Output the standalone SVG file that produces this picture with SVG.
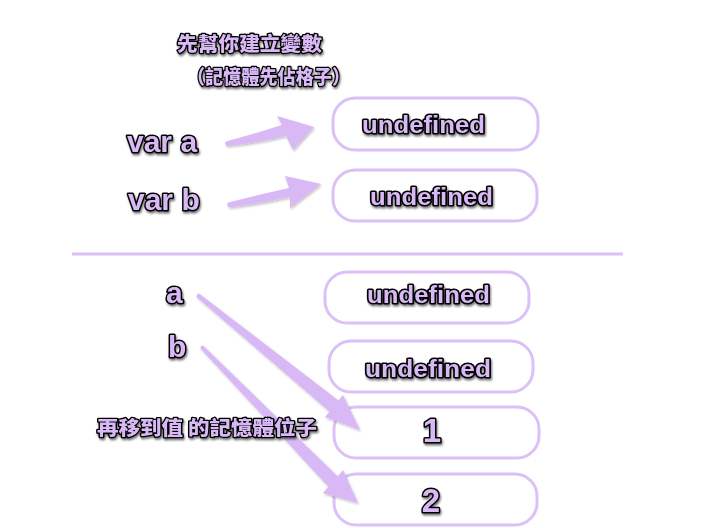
<svg xmlns="http://www.w3.org/2000/svg" width="720" height="528" viewBox="0 0 720 528">
<defs>
<filter id="ts" x="-20%" y="-30%" width="140%" height="170%">
<feDropShadow dx="1" dy="2" stdDeviation="1.3" flood-color="#000" flood-opacity="0.55"/>
</filter>
<filter id="as" x="-20%" y="-20%" width="140%" height="140%">
<feDropShadow dx="1" dy="1.5" stdDeviation="1.2" flood-color="#000" flood-opacity="0.25"/>
</filter>
</defs>
<style>
.t{font-family:"Liberation Sans","Noto Sans CJK TC",sans-serif;font-weight:bold;fill:#d8b9f6;stroke:#000;stroke-width:3;stroke-linejoin:round;paint-order:stroke;filter:url(#ts)}
.c{font-family:"Noto Sans CJK TC","Liberation Sans",sans-serif;font-weight:900;font-size:19.5px;fill:#d8b9f6;stroke:#000;stroke-width:2.6;stroke-linejoin:round;paint-order:stroke;filter:url(#ts)}
.v{font-size:30px}
.u{font-size:23px}
.n{font-size:33px}
.box{fill:#fff;stroke:#dcc0f8;stroke-width:3}
.arr{fill:#d8b9f6;filter:url(#as)}
</style>
<rect width="720" height="528" fill="#fff"/>
<g id="title">
<text class="c" x="177" y="51" textLength="145" lengthAdjust="spacingAndGlyphs">先幫你建立變數</text>
<text class="c" x="187" y="84" textLength="163" lengthAdjust="spacingAndGlyphs">（記憶體先佔格子）</text>
</g>
<g id="var-a"><text class="t v" x="127" y="152">var a</text></g>
<g id="var-b"><text class="t v" x="128" y="210">var b</text></g>
<g id="box1"><rect class="box" x="333" y="98" width="205" height="52" rx="22"/><text class="t u" x="362" y="133" textLength="123" lengthAdjust="spacingAndGlyphs">undefined</text></g>
<g id="box2"><rect class="box" x="333" y="170" width="204" height="51" rx="22"/><text class="t u" x="370" y="205" textLength="123" lengthAdjust="spacingAndGlyphs">undefined</text></g>
<line x1="72" y1="254" x2="623" y2="254" stroke="#dcc0f8" stroke-width="3"/>
<g id="a"><text class="t v" x="166" y="303">a</text></g>
<g id="b"><text class="t v" x="168" y="357">b</text></g>
<g id="box3"><rect class="box" x="325" y="272" width="204" height="51" rx="22"/><text class="t u" x="367" y="303" textLength="123" lengthAdjust="spacingAndGlyphs">undefined</text></g>
<g id="box4"><rect class="box" x="329" y="341" width="204" height="51" rx="22"/><text class="t u" x="365" y="377" textLength="126" lengthAdjust="spacingAndGlyphs">undefined</text></g>
<g id="box5"><rect class="box" x="334" y="407" width="205" height="51" rx="22"/><text class="t n" x="432" y="442" text-anchor="middle">1</text></g>
<g id="box6"><rect class="box" x="334" y="474" width="203" height="51" rx="22"/><text class="t n" x="431" y="512" text-anchor="middle">2</text></g>
<g id="connectors">
<path class="arr" d="M226,141.5 Q254,134 282,125 L277,116 L314,127 L293,150 L286,136 Q257,143 227,146 Q224,144 226,141.5 Z"/>
<path class="arr" d="M228,202.5 Q258,195 289,188 L285,176 L321,184 L290,208 L290,197 Q260,204 229,207.5 Q226,205 228,202.5 Z"/>
<path class="arr" d="M199,293.5 L338.5,400.6 L343,395 L360,430 L325,417 L329.5,411.4 L196.5,297 Q196,294 199,293.5 Z"/>
<path class="arr" d="M203,345.5 L337.6,476.2 L343,470 L358,503 L323,493 L328.4,486.8 L200.5,348.5 Q200,345.5 203,345.5 Z"/>
</g>
<g id="note"><text class="c" x="97" y="435" textLength="220" lengthAdjust="spacingAndGlyphs">再移到值 的記憶體位子</text></g>
</svg>
